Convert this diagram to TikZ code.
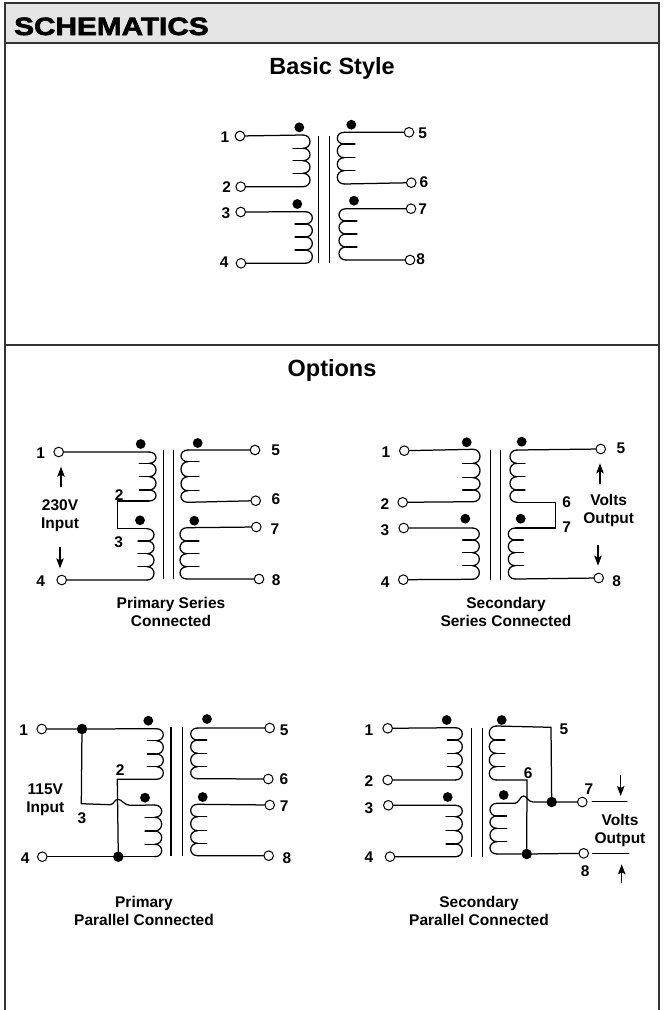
\documentclass[tikz,border=0pt]{standalone}
\usepackage{fontspec}
\setmainfont{Liberation Sans}
\newfontfamily\titlefont[FakeStretch=1.19,FakeBold=2.6]{Liberation Sans Bold}
\usetikzlibrary{arrows.meta}
\tikzset{
  term/.style={circle,draw,fill=white,line width=1pt,minimum size=9.6pt,inner sep=0pt},
  dotm/.style={circle,fill=black,minimum size=9.8pt,inner sep=0pt},
  jct/.style={circle,fill=black,minimum size=10.5pt,inner sep=0pt},
  lab/.style={font=\fontsize{15.5}{18}\selectfont\bfseries,align=center,inner sep=0pt},
  head/.style={font=\fontsize{23.5}{26}\selectfont\bfseries,inner sep=0pt},
  wire/.style={line width=1.25pt,line cap=round,line join=round},
  core/.style={line width=1.2pt},
  frm/.style={line width=1.4pt,draw=black!80},
  flow/.style={line width=1.1pt,-{Stealth[length=10pt,width=7.5pt,inset=2pt]}}
}
% #1 name, #2 side (1 bumps right, -1 bumps left), #3 outer x, #4 tick end x,
% #5 top y, #6-#8 tick ys, #9 bottom y
\newcommand{\mycoil}[9]{%
  \pgfmathsetmacro{\ca}{#3-#2*7}%
  \pgfmathsetmacro{\cb}{#3+#2*2.33}%
  \coordinate (#1-t) at (\ca,#5);
  \coordinate (#1-b) at (\ca,#9);
  \draw[wire] (#1-t) .. controls (\cb,#5) and (\cb,#6) .. (\ca,#6)
    .. controls (\cb,#6) and (\cb,#7) .. (\ca,#7)
    .. controls (\cb,#7) and (\cb,#8) .. (\ca,#8)
    .. controls (\cb,#8) and (\cb,#9) .. (#1-b);
  \draw[wire] (#4,#6) -- (\ca,#6) (#4,#7) -- (\ca,#7) (#4,#8) -- (\ca,#8);
}
\newcommand{\mycore}[4]{%
  \draw[core] (#1,#3) -- (#1,#4) (#2,#3) -- (#2,#4);
}
\begin{document}
\begin{tikzpicture}[x=1pt,y=-1pt]
\useasboundingbox (0,0) rectangle (666,1010);
% frame
\fill[black!10] (5,3) rectangle (659,43);
\draw[frm] (5,1010) -- (5,3) -- (659,3) -- (659,1010);
\draw[frm] (5,43) -- (659,43);
\draw[frm] (5,345) -- (659,345);
\node[anchor=base west,inner sep=0pt,font=\titlefont\fontsize{25}{28}\selectfont] (title) at (14,35) {SCHEMATICS};
\node[head] (h1) at (332,68) {Basic Style};
\node[head] (h2) at (332,370) {Options};

% ---- Basic style
\mycore{318.7}{329.3}{136}{263}
\mycoil{a1}{1}{310}{293}{135}{148.3}{160.7}{173.3}{186.7}
\mycoil{a2}{1}{312.3}{295}{211.7}{224}{237}{250}{263.3}
\mycoil{a3}{-1}{337.3}{355}{132.3}{144}{157.7}{170.7}{184}
\mycoil{a4}{-1}{339}{357}{208.7}{221}{234}{247}{260}
\node[term] (at1) at (240,136) {};
\node[term] (at2) at (240.7,186.7) {};
\node[term] (at3) at (240.7,212) {};
\node[term] (at4) at (241,263.3) {};
\node[term] (at5) at (409,132.3) {};
\node[term] (at6) at (411.3,182.7) {};
\node[term] (at7) at (411,208.7) {};
\node[term] (at8) at (410,260) {};
\draw[wire] (at1) -- (a1-t) (at2) -- (a1-b) (at3) -- (a2-t) (at4) -- (a2-b)
  (at5) -- (a3-t) (at6) -- (a3-b) (at7) -- (a4-t) (at8) -- (a4-b);
\node[dotm] (ad1) at (299.3,127.3) {};
\node[dotm] (ad2) at (351.3,124.7) {};
\node[dotm] (ad3) at (297.3,204) {};
\node[dotm] (ad4) at (354,200.7) {};
\node[lab] (al1) at (225,137) {1};
\node[lab] (al2) at (226.7,187) {2};
\node[lab] (al3) at (226,213.3) {3};
\node[lab] (al4) at (224.3,261.7) {4};
\node[lab] (al5) at (422.7,133.3) {5};
\node[lab] (al6) at (424,182.3) {6};
\node[lab] (al7) at (422.7,209.3) {7};
\node[lab] (al8) at (420.7,259) {8};

% ---- Primary series
\mycore{163.3}{173.3}{450}{579}
\mycoil{b1}{1}{156}{139.3}{452}{463.3}{476.7}{490}{501}
\mycoil{b2}{1}{154}{138}{528.7}{541}{553.7}{566.7}{580}
\mycoil{b3}{-1}{181}{199}{450}{461.7}{476.7}{490.7}{502.3}
\mycoil{b4}{-1}{180}{199}{527.7}{541}{553.7}{566.7}{579}
\node[term] (bt1) at (58.7,452) {};
\node[term] (bt4) at (61.7,580) {};
\node[term] (bt5) at (255,450) {};
\node[term] (bt6) at (255.7,500.7) {};
\node[term] (bt7) at (256.3,527) {};
\node[term] (bt8) at (259,579) {};
\coordinate (bk2) at (117.3,501);
\coordinate (bk3) at (117.3,528.7);
\draw[wire] (bt1) -- (b1-t) (bt4) -- (b2-b) (bt5) -- (b3-t) (bt6) -- (b3-b)
  (bt7) -- (b4-t) (bt8) -- (b4-b);
\draw[wire] (b1-b) -- (bk2) -- (bk3) -- (b2-t);
\node[dotm] (bd1) at (140.7,444) {};
\node[dotm] (bd2) at (197.7,443) {};
\node[dotm] (bd3) at (140,520.3) {};
\node[dotm] (bd4) at (194.3,520.7) {};
\node[lab] (bl1) at (40.7,453.3) {1};
\node[lab] (bl4) at (40.7,580.7) {4};
\node[lab] (bl5) at (275.7,450) {5};
\node[lab] (bl6) at (276,499.3) {6};
\node[lab] (bl7) at (275,529.3) {7};
\node[lab] (bl8) at (276.3,580) {8};
\node[lab] (bl2) at (119.3,494.7) {2};
\node[lab] (bl3) at (118.7,542) {3};
\node[lab] (bv) at (60,515.7) {230V\\Input};
\coordinate (bu1) at (61,486.7); \coordinate (bu2) at (61,466.7);
\coordinate (bd5) at (60,546.7); \coordinate (bd6) at (60,568.3);
\draw[flow] (bu1) -- (bu2);
\draw[flow] (bd5) -- (bd6);
\node[lab] (bc) at (171,611.7) {Primary Series\\Connected};

% ---- Secondary series
\mycore{490.7}{500.3}{450}{579.7}
\mycoil{c1}{1}{480}{462.7}{449.3}{463.3}{477.7}{490}{501.7}
\mycoil{c2}{1}{479.3}{462.7}{528}{540}{552.7}{565.7}{579.3}
\mycoil{c3}{-1}{510}{525}{450}{463.3}{476.7}{490}{502.3}
\mycoil{c4}{-1}{508.3}{523.3}{528}{540}{552.7}{565.7}{579}
\node[term] (ct1) at (404.3,450.7) {};
\node[term] (ct2) at (402.7,502.3) {};
\node[term] (ct3) at (403.7,528) {};
\node[term] (ct4) at (403.3,579.7) {};
\node[term] (ct5) at (600.7,449) {};
\node[term] (ct8) at (598.7,578) {};
\coordinate (ck6) at (555.3,502.3);
\coordinate (ck7) at (555.3,528);
\draw[wire] (ct1) -- (c1-t) (ct2) -- (c1-b) (ct3) -- (c2-t) (ct4) -- (c2-b)
  (ct5) -- (c3-t) (ct8) -- (c4-b);
\draw[wire] (c3-b) -- (ck6) -- (ck7) -- (c4-t);
\node[dotm] (cd1) at (466.7,442.3) {};
\node[dotm] (cd2) at (521.7,441.7) {};
\node[dotm] (cd3) at (465.3,518.7) {};
\node[dotm] (cd4) at (520.7,518.7) {};
\node[lab] (cl1) at (386,451.7) {1};
\node[lab] (cl2) at (385,504) {2};
\node[lab] (cl3) at (385,530) {3};
\node[lab] (cl4) at (385.3,581.7) {4};
\node[lab] (cl5) at (621,448.7) {5};
\node[lab] (cl6) at (566.7,502) {6};
\node[lab] (cl7) at (566.7,527.3) {7};
\node[lab] (cl8) at (616.7,580.7) {8};
\node[lab] (cv) at (608.7,510.4) {Volts\\Output};
\coordinate (cu1) at (600,484.3); \coordinate (cu2) at (600,463.3);
\coordinate (cd5) at (598,545); \coordinate (cd6) at (598,565.7);
\draw[flow] (cu1) -- (cu2);
\draw[flow] (cd5) -- (cd6);
\node[lab] (cc) at (506,611.7) {Secondary\\Series Connected};

% ---- Primary parallel
\mycore{171}{182.3}{726.7}{856}
\mycoil{d1}{1}{163.3}{147.3}{728.7}{740.7}{754}{766.7}{779.3}
\mycoil{d2}{1}{161.7}{145}{805}{817.3}{831}{844.3}{856.7}
\mycoil{d3}{-1}{190.7}{206.7}{728}{740}{753.3}{766.7}{778.7}
\mycoil{d4}{-1}{190.7}{206.7}{804.3}{816.7}{830.7}{843.3}{855.7}
\node[term] (dt1) at (41.7,729) {};
\node[term] (dt4) at (42.3,856.7) {};
\node[term] (dt5) at (269.7,728) {};
\node[term] (dt6) at (268.3,779) {};
\node[term] (dt7) at (269.7,805) {};
\node[term] (dt8) at (268.7,855.7) {};
\node[jct] (dj1) at (82,729) {};
\node[jct] (dj2) at (118.3,856.7) {};
\coordinate (dk1) at (81.3,803.7);
\coordinate (dk2) at (110,804.7);
\coordinate (dk3) at (130,805.3);
\coordinate (dk4) at (117.3,779.3);
\draw[wire] (dt1) -- (dj1) -- (d1-t);
\draw[wire] (dt4) -- (dj2) -- (d2-b);
\draw[wire] (dj1) -- (dk1) -- (dk2)
  .. controls (114,804.5) and (114.5,799.3) .. (118,799.3)
  .. controls (122,799.3) and (124,805.3) .. (dk3) -- (d2-t);
\draw[wire] (d1-b) -- (dk4) -- (dj2);
\draw[wire] (dt5) -- (d3-t) (dt6) -- (d3-b) (dt7) -- (d4-t) (dt8) -- (d4-b);
\node[dotm] (dd1) at (148.3,720.7) {};
\node[dotm] (dd2) at (207,719) {};
\node[dotm] (dd3) at (145,797.7) {};
\node[dotm] (dd4) at (202.7,797) {};
\node[lab] (dl1) at (23.7,730) {1};
\node[lab] (dl4) at (25.3,857.7) {4};
\node[lab] (dl5) at (284.3,730) {5};
\node[lab] (dl6) at (284,779.3) {6};
\node[lab] (dl7) at (284.3,806) {7};
\node[lab] (dl8) at (287,857.7) {8};
\node[lab] (dl2) at (120.3,770.3) {2};
\node[lab] (dl3) at (82,818.3) {3};
\node[lab] (dv) at (45.3,799.8) {115V\\Input};
\node[lab] (dc) at (144,911) {Primary\\Parallel Connected};

% ---- Secondary parallel
\mycore{471.7}{482.7}{728}{857}
\mycoil{e1}{1}{462.3}{447.3}{727.7}{740}{753.3}{766.7}{780}
\mycoil{e2}{1}{462.3}{446}{805.3}{816.7}{830.7}{844}{856.7}
\mycoil{e3}{-1}{489.3}{505}{726}{740}{753.3}{766.7}{780}
\mycoil{e4}{-1}{490}{506.7}{803.3}{816}{828.3}{841.7}{854}
\node[term] (et1) at (387.7,728.3) {};
\node[term] (et2) at (387.7,780) {};
\node[term] (et3) at (388.3,805.3) {};
\node[term] (et4) at (390,856.7) {};
\node[term] (et7) at (582.3,802) {};
\node[term] (et8) at (583.7,853.3) {};
\node[jct] (ej1) at (551.7,802) {};
\node[jct] (ej2) at (526.7,854) {};
\coordinate (ek1) at (551,727.3);
\coordinate (ek2) at (527,780);
\coordinate (ek3) at (515,803.3);
\coordinate (ek4) at (533.3,802);
\draw[wire] (et1) -- (e1-t) (et2) -- (e1-b) (et3) -- (e2-t) (et4) -- (e2-b);
\draw[wire] (e3-t) -- (ek1) -- (ej1);
\draw[wire] (e3-b) -- (ek2) -- (ej2);
\draw[wire] (e4-t) -- (ek3) .. controls (519,803) and (520,796) .. (523.5,796)
  .. controls (527,796) and (528,802) .. (ek4) -- (ej1) -- (et7);
\draw[wire] (e4-b) -- (ej2) -- (et8);
\coordinate (em1) at (592.3,801.7); \coordinate (em2) at (627,801.7);
\coordinate (em3) at (592.7,853.7); \coordinate (em4) at (628.7,853.7);
\draw[wire] (em1) -- (em2) (em3) -- (em4);
\coordinate (ea1) at (620.7,775); \coordinate (ea2) at (620.7,796);
\coordinate (ea3) at (621.7,883.3); \coordinate (ea4) at (621.7,864.3);
\draw[flow] (ea1) -- (ea2);
\draw[flow] (ea3) -- (ea4);
\node[dotm] (ed1) at (446.7,720) {};
\node[dotm] (ed2) at (501.7,720) {};
\node[dotm] (ed3) at (447.7,797) {};
\node[dotm] (ed4) at (503.7,795) {};
\node[lab] (el1) at (369,730) {1};
\node[lab] (el2) at (369,781) {2};
\node[lab] (el3) at (369,808) {3};
\node[lab] (el4) at (369,857) {4};
\node[lab] (el5) at (564,729) {5};
\node[lab] (el6) at (528.3,773.3) {6};
\node[lab] (el7) at (589,789.3) {7};
\node[lab] (el8) at (585.3,870.7) {8};
\node[lab] (ev) at (620,830.4) {Volts\\Output};
\node[lab] (ec) at (479,911) {Secondary\\Parallel Connected};
\end{tikzpicture}
\end{document}
